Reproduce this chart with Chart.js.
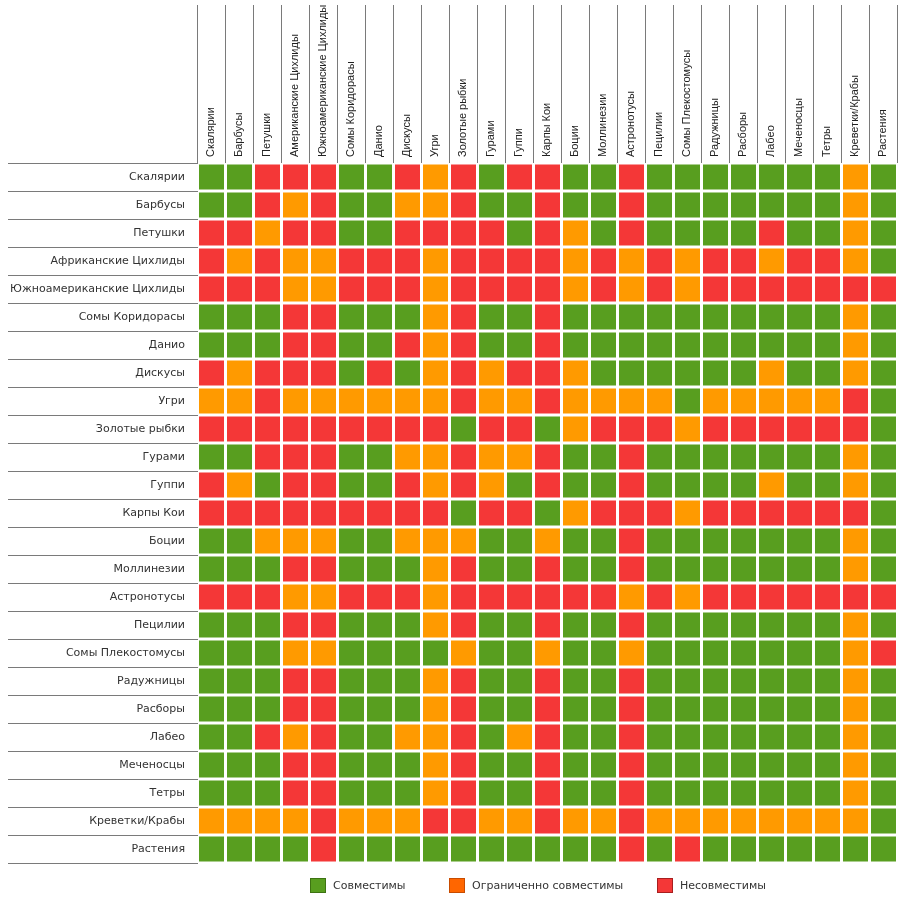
<!DOCTYPE html>
<html>
<head>
<meta charset="utf-8">
<script src="https://cdn.jsdelivr.net/npm/chart.js@4/dist/chart.umd.min.js"></script>
<style>
  html, body { margin: 0; padding: 0; background: #ffffff; }
  #c { display: block; }
</style>
</head>
<body>
<canvas id="c" width="902" height="898"></canvas>
<script>
// ---- data ----
const rowLabels = ['Скалярии','Барбусы','Петушки','Африканские Цихлиды','Южноамериканские Цихлиды','Сомы Коридорасы','Данио','Дискусы','Угри','Золотые рыбки','Гурами','Гуппи','Карпы Кои','Боции','Моллинезии','Астронотусы','Пецилии','Сомы Плекостомусы','Радужницы','Расборы','Лабео','Меченосцы','Тетры','Креветки/Крабы','Растения'];
const colLabels = ['Скалярии','Барбусы','Петушки','Американские Цихлиды','Южноамериканские Цихлиды','Сомы Коридорасы','Данио','Дискусы','Угри','Золотые рыбки','Гурами','Гуппи','Карпы Кои','Боции','Моллинезии','Астронотусы','Пецилии','Сомы Плекостомусы','Радужницы','Расборы','Лабео','Меченосцы','Тетры','Креветки/Крабы','Растения'];
// G = compatible, O = limited, R = incompatible (one string per row, one letter per column)
const compatibility = [
  'GGRRRGGRORGRRGGRGGGGGGGOG',
  'GGRORGGOORGGRGGRGGGGGGGOG',
  'RRORRGGRRRRGROGRGGGGRGGOG',
  'ROROORRRORRRRORORORRORROG',
  'RRROORRRORRRRORORORRRRRRR',
  'GGGRRGGGORGGRGGGGGGGGGGOG',
  'GGGRRGGRORGGRGGGGGGGGGGOG',
  'RORRRGRGORORROGGGGGGOGGOG',
  'OOROOOOOOROOROOOOGOOOOORG',
  'RRRRRRRRRGRRGORRRORRRRRRG',
  'GGRRRGGOOROORGGRGGGGGGGOG',
  'ROGRRGGROROGRGGRGGGGOGGOG',
  'RRRRRRRRRGRRGORRRORRRRRRG',
  'GGOOOGGOOOGGOGGRGGGGGGGOG',
  'GGGRRGGGORGGRGGRGGGGGGGOG',
  'RRROORRRORRRRRRORORRRRRRR',
  'GGGRRGGGORGGRGGRGGGGGGGOG',
  'GGGOOGGGGOGGOGGOGGGGGGGOR',
  'GGGRRGGGORGGRGGRGGGGGGGOG',
  'GGGRRGGGORGGRGGRGGGGGGGOG',
  'GGRORGGOORGORGGRGGGGGGGOG',
  'GGGRRGGGORGGRGGRGGGGGGGOG',
  'GGGRRGGGORGGRGGRGGGGGGGOG',
  'OOOOROOORROOROOROOOOOOOOG',
  'GGGGRGGGGGGGGGGRGRGGGGGGG'
];
const statusCodes = ['G', 'O', 'R'];
const statusLabels = ['Совместимы', 'Ограниченно совместимы', 'Несовместимы'];

// ---- styles ----
const cellColors = ['#589e1f', '#ff9a00', '#f43737'];
const legendColors = ['#589e1f', '#ff6600', '#f43737'];
const legendBorders = ['#3d7312', '#c84c00', '#a81f1f'];
const gridColor = '#7a7a7a';
const CELL_GAP = 3;

function cellRadius(ctx) {
  const a = ctx.chart.chartArea;
  if (!a) return 0;
  const side = Math.min(a.width / colLabels.length, a.height / rowLabels.length) - CELL_GAP;
  return side / (2 * Math.SQRT1_2);
}

const datasets = statusCodes.map((code, s) => {
  const pts = [];
  compatibility.forEach((row, r) => {
    for (let c = 0; c < row.length; c++) {
      if (row[c] === code) pts.push({ x: colLabels[c], y: rowLabels[r] });
    }
  });
  return {
    label: statusLabels[s],
    data: pts,
    pointStyle: 'rect',
    backgroundColor: cellColors[s],
    borderWidth: 0,
    pointRadius: cellRadius,
    pointHoverRadius: cellRadius,
    pointBorderWidth: 0
  };
});

const statusLegend = {
  id: 'statusLegend',
  afterDraw(chart, args, opts) {
    const { ctx } = chart;
    ctx.save();
    ctx.font = opts.font;
    ctx.textBaseline = 'middle';
    ctx.textAlign = 'left';
    chart.data.datasets.forEach((ds, i) => {
      const x = opts.slots[i];
      ctx.fillStyle = legendColors[i];
      ctx.fillRect(x, opts.y, opts.boxW, opts.boxH);
      ctx.strokeStyle = legendBorders[i];
      ctx.lineWidth = 1;
      ctx.strokeRect(x + 0.5, opts.y + 0.5, opts.boxW - 1, opts.boxH - 1);
      ctx.fillStyle = opts.color;
      ctx.fillText(ds.label, x + opts.boxW + 7, opts.y + opts.boxH / 2 + 0.5);
    });
    ctx.restore();
  }
};

new Chart(document.getElementById('c'), {
  type: 'scatter',
  data: { datasets },
  plugins: [statusLegend],
  options: {
    responsive: false,
    animation: false,
    events: [],
    layout: { padding: { left: 0, right: 4.5, top: 0, bottom: 35 } },
    plugins: {
      legend: { display: false },
      tooltip: { enabled: false },
      statusLegend: {
        slots: [310, 449, 657],
        y: 878,
        boxW: 16,
        boxH: 15,
        font: '11px "DejaVu Sans"',
        color: '#333333'
      }
    },
    scales: {
      x: {
        type: 'category',
        labels: colLabels,
        position: 'top',
        offset: true,
        border: { display: false },
        grid: { offset: true, drawOnChartArea: false, drawTicks: true, tickLength: 158, color: gridColor, lineWidth: 1 },
        ticks: {
          autoSkip: false, maxRotation: 90, minRotation: 90,
          padding: -152,
          labelOffset: 13,
          color: '#222222',
          font: { family: '"Liberation Sans", Arial, sans-serif', size: 11 }
        },
        afterFit(scale) { scale.height = 163; }
      },
      y: {
        type: 'category',
        labels: rowLabels,
        position: 'left',
        offset: true,
        border: { display: false },
        grid: { offset: true, drawOnChartArea: false, drawTicks: true, tickLength: 189.5, color: gridColor, lineWidth: 1 },
        ticks: {
          autoSkip: false,
          padding: -177,
          color: '#333333',
          font: { family: '"DejaVu Sans", Verdana, sans-serif', size: 11 }
        },
        afterFit(scale) { scale.width = 197.5; }
      }
    }
  }
});
</script>
</body>
</html>
